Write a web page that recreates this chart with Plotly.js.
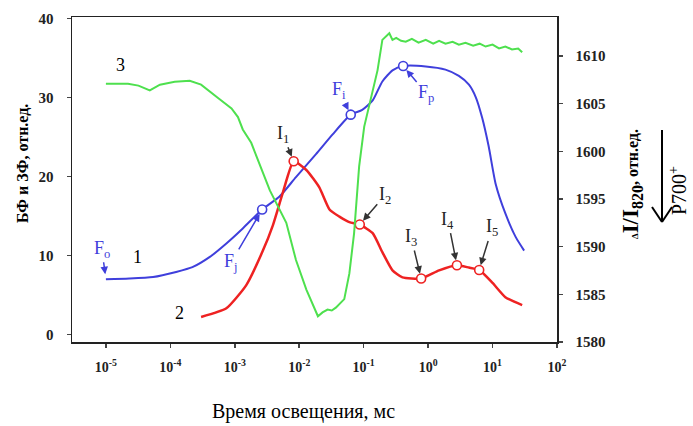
<!DOCTYPE html>
<html>
<head>
<meta charset="utf-8">
<script src="https://cdn.plot.ly/plotly-3.0.1.min.js"></script>
<style>
  html, body { margin: 0; padding: 0; background: #fff; }
  #chart { width: 693px; height: 426px; }
</style>
</head>
<body>
<div id="chart"></div>
<script>
// Curve 1: prompt chlorophyll fluorescence (OJIP), left axis, time in ms
const timeFluor = [1.0e-5, 2.3e-5, 5.4e-5, 1.23e-4, 2.2e-4, 4.1e-4, 7.4e-4, 1.33e-3, 2.66e-3, 4.9e-3,
  8.9e-3, 1.82e-2, 3.3e-2, 6.3e-2, 9.5e-2, 0.138, 0.195, 0.28, 0.41, 0.92, 1.86, 3.0, 4.3, 5.5, 6.9,
  8.7, 11.2, 15.8, 22.9, 30.9];
const valFluor = [6.97, 7.06, 7.26, 7.9, 8.5, 9.8, 11.5, 13.4, 15.8, 17.4,
  19.9, 22.8, 25.3, 27.8, 28.4, 29.6, 32.0, 33.4, 33.95, 33.9, 33.5, 32.7, 31.6, 30.0, 27.4,
  23.8, 19.0, 15.3, 12.3, 10.6];

// Curve 2: delayed light emission, left axis
const timeDelayed = [3.0e-4, 7.4e-4, 1.5e-3, 2.7e-3, 3.9e-3, 5.6e-3, 8.2e-3, 1.29e-2, 2.05e-2, 2.95e-2,
  4.2e-2, 6.0e-2, 8.7e-2, 0.138, 0.195, 0.28, 0.40, 0.78, 1.48, 2.8, 4.3, 6.2, 10, 15.8, 28.8];
const valDelayed = [2.2, 3.3, 6.2, 10.5, 13.8, 18.0, 21.9, 20.8, 18.6, 15.8,
  14.9, 14.2, 13.9, 12.8, 10.4, 8.1, 7.2, 7.06, 8.1, 8.75, 8.45, 8.15, 6.5, 4.7, 3.7];

// Curve 3: 820 nm absorbance (P700 redox state), right axis
const timeP700 = [1.0e-5, 2.2e-5, 3.2e-5, 4.8e-5, 6.9e-5, 1.17e-4, 2.0e-4, 3.0e-4, 5.5e-4, 8.9e-4,
  1.12e-3, 1.33e-3, 1.8e-3, 2.4e-3, 3.5e-3, 6.3e-3, 8.9e-3, 1.29e-2, 1.95e-2, 2.3e-2, 2.75e-2,
  3.2e-2, 3.7e-2, 5.0e-2, 6.0e-2, 7.1e-2, 8.5e-2, 0.102, 0.129, 0.164, 0.195, 0.25, 0.28, 0.32,
  0.38, 0.45, 0.56, 0.71, 0.92, 1.2, 1.48, 1.86, 2.4, 3.0, 3.8, 5.0, 6.3, 7.8, 10, 12.6, 15.8,
  20, 25, 28.8];
const valP700 = [1607.1, 1607.1, 1606.9, 1606.4, 1607.0, 1607.3, 1607.4, 1607.0, 1605.6, 1604.5,
  1603.6, 1602.3, 1600.9, 1598.8, 1595.9, 1592.5, 1588.6, 1585.5, 1582.7, 1583.1, 1583.4,
  1583.3, 1583.6, 1584.5, 1587.2, 1591.4, 1598.4, 1602.6, 1605.4, 1608.5, 1611.7, 1612.4, 1611.7, 1611.9,
  1611.6, 1611.5, 1611.8, 1611.4, 1611.7, 1611.3, 1611.6, 1611.3, 1611.5, 1611.2, 1611.4, 1611.1, 1611.3, 1611.0, 1611.2, 1610.8, 1611.0,
  1610.7, 1610.8, 1610.4];

// Characteristic points on the curves
const fluorMarkTime = [2.66e-3, 6.3e-2, 0.41];
const fluorMarkVal = [15.8, 27.8, 33.95];
const fluorMarkLabel = ['F<sub>j</sub>', 'F<sub>i</sub>', 'F<sub>p</sub>'];
const delayedMarkTime = [8.2e-3, 8.7e-2, 0.78, 2.8, 6.2];
const delayedMarkVal = [21.9, 13.9, 7.06, 8.75, 8.15];
const delayedMarkLabel = ['I<sub>1</sub>', 'I<sub>2</sub>', 'I<sub>3</sub>', 'I<sub>4</sub>', 'I<sub>5</sub>'];

// Axis ticks
const xTickVals = [1e-5, 1e-4, 1e-3, 1e-2, 1e-1, 1e0, 1e1, 1e2];
const xTickText = ['10<sup>-5</sup>', '10<sup>-4</sup>', '10<sup>-3</sup>', '10<sup>-2</sup>',
  '10<sup>-1</sup>', '10<sup>0</sup>', '10<sup>1</sup>', '10<sup>2</sup>'];
const leftTicks = [0, 10, 20, 30, 40];
const rightTicks = [1580, 1585, 1590, 1595, 1600, 1605, 1610];

const BLUE = '#3f3fdc';
const RED = '#ee2222';
const GREEN = '#4ee04e';
const SERIF = 'Liberation Serif, Times New Roman, serif';

// Plot area in pixels, used to place items outside the axes
const PLOT = { l: 72, r: 557, t: 17, b: 342 };
const px = (x) => (x - PLOT.l) / (PLOT.r - PLOT.l);
const py = (y) => (PLOT.b - y) / (PLOT.b - PLOT.t);

const traces = [
  { x: timeP700, y: valP700, yaxis: 'y2', mode: 'lines', line: { color: GREEN, width: 2 }, hoverinfo: 'skip' },
  { x: timeFluor, y: valFluor, mode: 'lines', line: { color: BLUE, width: 2, shape: 'spline', smoothing: 0.6 }, hoverinfo: 'skip' },
  { x: timeDelayed, y: valDelayed, mode: 'lines', line: { color: RED, width: 2.5, shape: 'spline', smoothing: 0.5 }, hoverinfo: 'skip' },
  { x: fluorMarkTime, y: fluorMarkVal, mode: 'markers',
    marker: { symbol: 'circle', size: 9, color: '#fff', line: { color: BLUE, width: 1.6 } }, hoverinfo: 'skip' },
  { x: delayedMarkTime, y: delayedMarkVal, mode: 'markers',
    marker: { symbol: 'circle', size: 9, color: '#fff', line: { color: RED, width: 1.6 } }, hoverinfo: 'skip' }
];

// Label offsets (pixels) from each characteristic point to its label
const fluorOffsets = [[-31, 53], [-12, -24], [23, 27]];
const delayedOffsets = [[-11, -27], [25, -29], [-10, -41], [-9, -45], [13, -42]];

const annotations = [];
function pointLabel(t, v, text, off, color, arrowColor) {
  annotations.push({
    x: Math.log10(t), y: v, xref: 'x', yref: 'y', text: text,
    showarrow: true, ax: off[0], ay: off[1], arrowhead: 2, arrowsize: 1, arrowwidth: 1.5,
    arrowcolor: arrowColor, standoff: 5,
    font: { family: SERIF, size: 18, color: color }
  });
}
fluorMarkTime.forEach((t, i) => pointLabel(t, fluorMarkVal[i], fluorMarkLabel[i], fluorOffsets[i], BLUE, BLUE));
delayedMarkTime.forEach((t, i) => pointLabel(t, delayedMarkVal[i], delayedMarkLabel[i], delayedOffsets[i], '#222', '#333'));
// Initial fluorescence level Fo at the first point of curve 1
pointLabel(timeFluor[0], valFluor[0], 'F<sub>o</sub>', [-4, -30], BLUE, BLUE);

// Curve numbers
[['1', -4.505, 9.8], ['2', -3.855, 2.7], ['3', -4.77, 34.1]].forEach(([t, lx, ly]) => {
  annotations.push({ x: lx, y: ly, xref: 'x', yref: 'y', text: t, showarrow: false,
    font: { family: SERIF, size: 18, color: '#000' } });
});

// Free text placed by its centre in pixels
function freeText(cx, cy, text, size, angle, weight) {
  annotations.push({ xref: 'paper', yref: 'paper', x: px(cx), y: py(cy), xanchor: 'center', yanchor: 'middle',
    text: text, textangle: angle, showarrow: false,
    font: { family: SERIF, size: size, color: '#000', weight: weight } });
}
freeText(22, 164, 'БФ и ЗФ, отн.ед.', 16, -90, 'bold');
freeText(632, 184, '<span style="font-size:9px">Δ</span>I/I<sub>820</sub><span style="font-size:16px">, отн.ед.</span>', 23, -90, 'bold');
freeText(303, 411, 'Время освещения, мс', 20, 0, 'normal');
freeText(678, 191, 'P700<sup>+</sup>', 20, -90, 'normal');

// Downward arrow next to the P700 label
const arrowLine = { type: 'line', xref: 'paper', yref: 'paper', line: { color: '#000', width: 2 } };
const shapes = [
  Object.assign({}, arrowLine, { x0: px(662), y0: py(130), x1: px(662), y1: py(222) }),
  Object.assign({}, arrowLine, { x0: px(652), y0: py(207), x1: px(662), y1: py(222) }),
  Object.assign({}, arrowLine, { x0: px(672), y0: py(207), x1: px(662), y1: py(222) })
];

const tickFont = { family: SERIF, size: 15, color: '#222', weight: 'bold' };

const layout = {
  width: 693, height: 426,
  margin: { l: PLOT.l, r: 693 - PLOT.r, t: PLOT.t, b: 426 - PLOT.b },
  paper_bgcolor: '#fff', plot_bgcolor: '#fff',
  showlegend: false,
  xaxis: {
    type: 'log', range: [-5.526, 2.0], tickvals: xTickVals, ticktext: xTickText,
    showline: true, linecolor: '#222', linewidth: 1.5, mirror: true,
    ticks: 'outside', ticklen: 4, tickwidth: 1.5, tickcolor: '#444',
    showgrid: false, zeroline: false,
    tickfont: { family: SERIF, size: 14, color: '#222', weight: 'bold' }, ticklabelstandoff: 8
  },
  yaxis: {
    range: [-0.97, 40.16], tickvals: leftTicks,
    showline: true, linecolor: '#222', linewidth: 1.5,
    ticks: 'outside', ticklen: 4, tickwidth: 1.5, tickcolor: '#444',
    showgrid: false, zeroline: false, tickfont: tickFont, ticklabelstandoff: 10
  },
  yaxis2: {
    overlaying: 'y', side: 'right', range: [1580, 1614.1], tickvals: rightTicks,
    showline: true, linecolor: '#222', linewidth: 1.5,
    ticks: 'outside', ticklen: 4, tickwidth: 1.5, tickcolor: '#444',
    showgrid: false, zeroline: false, tickfont: tickFont, ticklabelstandoff: 10
  },
  annotations: annotations,
  shapes: shapes
};

Plotly.newPlot('chart', traces, layout, { staticPlot: true, displayModeBar: false });
</script>
</body>
</html>
